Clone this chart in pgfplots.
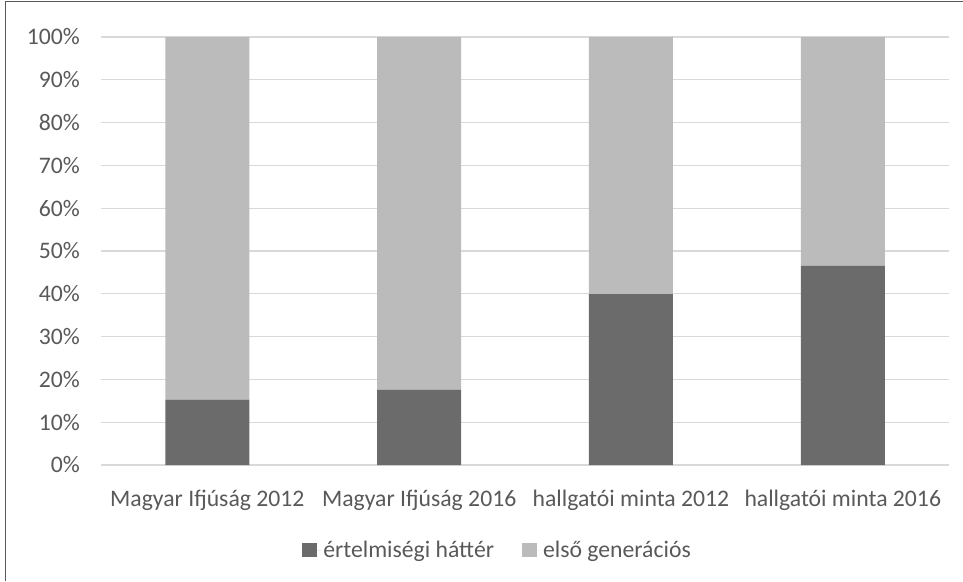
\documentclass[border=0pt]{standalone}
\usepackage{pgfplots}
\pgfplotsset{compat=1.18}
\usepackage{fontspec}
\setmainfont{Carlito}
\definecolor{darkbar}{HTML}{6B6B6B}
\definecolor{lightbar}{HTML}{BBBBBB}
\definecolor{gridc}{HTML}{D9D9D9}
\definecolor{textc}{HTML}{595959}
\begin{document}
\begin{tikzpicture}[x=1pt,y=1pt]
\path[use as bounding box] (0,0) rectangle (963,581);
\draw[color=black!65,line width=1pt] (5,0) -- (5,579) -- (963,579);
\begin{axis}[
  at={(101.4pt,116pt)}, anchor=south west,
  scale only axis, width=847.3pt, height=428pt,
  ybar stacked, bar width=84pt,
  xmin=-0.5, xmax=3.5, ymin=0, ymax=100,
  xtick={0,1,2,3},
  xticklabels={Magyar Ifjúság 2012, Magyar Ifjúság 2016, hallgatói minta 2012, hallgatói minta 2016},
  ytick={0,10,...,100},
  yticklabel={\pgfmathprintnumber{\tick}\%},
  /pgf/number format/assume math mode=true,
  ymajorgrids, grid style={gridc, line width=1.3pt},
  axis line style={draw=none},
  tick style={draw=none}, major tick length=0pt,
  tick label style={font=\fontsize{23.7pt}{28pt}\selectfont, text=textc},
  xticklabel style={anchor=base, inner sep=0pt, yshift=-41.7pt},
  yticklabel style={anchor=east, inner sep=0pt, xshift=-21.4pt},
  legend style={at={(0.4675,-0.1986)}, anchor=center, draw=none, fill=none,
    legend columns=2, font=\fontsize{23.7pt}{28pt}\selectfont, text=textc,
    /tikz/every even column/.append style={column sep=26pt},
    legend cell align=left},
  legend image code/.code={\fill[#1] (0pt,-7pt) rectangle (15pt,7pt); \path (0pt,0pt) -- (19pt,0pt);},
]
\addplot[fill=darkbar, draw=none] coordinates {(0,15.3) (1,17.6) (2,39.9) (3,46.5)};
\addplot[fill=lightbar, draw=none] coordinates {(0,84.7) (1,82.4) (2,60.1) (3,53.5)};
\legend{értelmiségi háttér, első generációs}
\end{axis}
\end{tikzpicture}
\end{document}
